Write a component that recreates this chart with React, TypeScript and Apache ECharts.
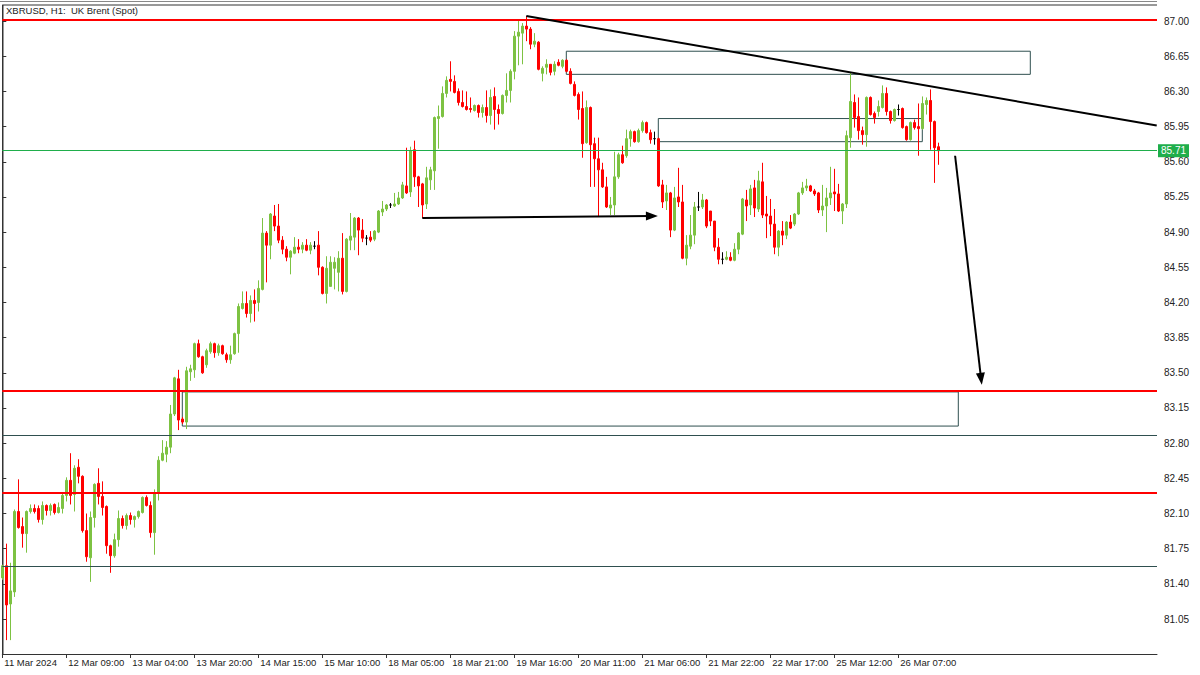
import React, { useEffect, useRef } from "react";
import * as echarts from "echarts";

const chartTitle = "XBRUSD, H1:  UK Brent (Spot)";

const timeTickLabels = [
  "11 Mar 2024", "12 Mar 09:00", "13 Mar 04:00", "13 Mar 20:00", "14 Mar 15:00",
  "15 Mar 10:00", "18 Mar 05:00", "18 Mar 21:00", "19 Mar 16:00", "20 Mar 11:00",
  "21 Mar 06:00", "21 Mar 22:00", "22 Mar 17:00", "25 Mar 12:00", "26 Mar 07:00",
];
const BARS_PER_TICK = 16;
const SLOTS = 288.675;

const priceTicks = [
  81.05, 81.4, 81.75, 82.1, 82.45, 82.8, 83.15, 83.5, 83.85, 84.2, 84.55, 84.9,
  85.25, 85.6, 85.95, 86.3, 86.65, 87.0,
];
const PRICE_TOP = 87.16;
const PRICE_BOTTOM = 80.702;

// [open, close, low, high]
const candles: number[][] = [
  [81.46, 81.58, 81.44, 81.59], [81.58, 81.19, 80.84, 81.8], [81.2, 81.33, 80.84, 81.61],
  [81.32, 82.12, 81.27, 82.14], [82.12, 81.96, 81.95, 82.44], [81.97, 81.9, 81.76, 82.06],
  [81.9, 82.12, 81.71, 82.13], [82.12, 82.15, 82.1, 82.19], [82.15, 82.12, 82.1, 82.19],
  [82.15, 82.04, 82.01, 82.18], [82.04, 82.18, 81.99, 82.22], [82.18, 82.13, 82.08, 82.19],
  [82.13, 82.18, 82.08, 82.2], [82.19, 82.11, 82.09, 82.2], [82.11, 82.16, 82.1, 82.21],
  [82.15, 82.28, 82.1, 82.3], [82.28, 82.43, 82.22, 82.46], [82.43, 82.28, 82.19, 82.7],
  [82.29, 82.55, 82.12, 82.58], [82.56, 82.47, 82.4, 82.64], [82.47, 81.93, 81.91, 82.48],
  [81.93, 81.67, 81.62, 82.1], [81.66, 82.06, 81.42, 82.12], [82.06, 82.39, 81.96, 82.4],
  [82.4, 82.27, 82.19, 82.55], [82.27, 82.16, 82.08, 82.42], [82.17, 81.78, 81.7, 82.18],
  [81.78, 81.68, 81.51, 81.79], [81.68, 81.84, 81.66, 81.9], [81.84, 82.05, 81.77, 82.13],
  [82.05, 81.98, 81.95, 82.08], [81.98, 82.08, 81.94, 82.1], [82.08, 82.04, 81.99, 82.11],
  [82.04, 82.07, 81.96, 82.08], [82.07, 82.12, 82.05, 82.13], [82.11, 82.26, 82.1, 82.27],
  [82.26, 82.18, 82.17, 82.28], [82.18, 81.91, 81.86, 82.22], [81.91, 82.3, 81.69, 82.34],
  [82.3, 82.63, 82.23, 82.67], [82.63, 82.7, 82.62, 82.83], [82.69, 82.76, 82.61, 82.82],
  [82.76, 83.09, 82.7, 83.18], [83.09, 83.45, 83.07, 83.46], [83.44, 83.03, 82.93, 83.53],
  [83.04, 83.01, 82.99, 83.06], [83.01, 83.52, 82.94, 83.56], [83.51, 83.54, 83.42, 83.58],
  [83.53, 83.79, 83.45, 83.8], [83.79, 83.66, 83.65, 83.83], [83.66, 83.5, 83.49, 83.67],
  [83.58, 83.72, 83.55, 83.74], [83.71, 83.79, 83.69, 83.81], [83.79, 83.7, 83.65, 83.8],
  [83.7, 83.77, 83.67, 83.79], [83.77, 83.69, 83.68, 83.78], [83.68, 83.63, 83.6, 83.7],
  [83.63, 83.68, 83.59, 83.77], [83.69, 83.89, 83.68, 83.9], [83.89, 84.16, 83.7, 84.19],
  [84.14, 84.19, 84.13, 84.31], [84.19, 84.09, 84.05, 84.31], [84.09, 84.22, 84.0, 84.27],
  [84.22, 84.19, 84.01, 84.33], [84.2, 84.34, 84.11, 84.42], [84.33, 84.89, 84.32, 85.04],
  [84.89, 84.77, 84.4, 84.91], [84.77, 85.08, 84.63, 85.09], [85.06, 84.96, 84.91, 85.17],
  [84.96, 84.82, 84.79, 85.18], [84.82, 84.73, 84.68, 84.86], [84.73, 84.65, 84.61, 84.76],
  [84.65, 84.71, 84.48, 84.72], [84.69, 84.75, 84.68, 84.85], [84.75, 84.73, 84.69, 84.83],
  [84.73, 84.77, 84.69, 84.8], [84.77, 84.72, 84.71, 84.83], [84.72, 84.77, 84.68, 84.8],
  [84.76, 84.76, 84.73, 84.81], [84.77, 84.55, 84.47, 84.91], [84.55, 84.29, 84.28, 84.56],
  [84.29, 84.54, 84.19, 84.66], [84.36, 84.6, 84.36, 84.66], [84.54, 84.6, 84.33, 84.65],
  [84.5, 84.64, 84.31, 84.71], [84.64, 84.31, 84.28, 84.89], [84.31, 84.83, 84.3, 84.84],
  [84.82, 84.86, 84.72, 85.09], [84.85, 85.04, 84.72, 85.05], [85.04, 84.92, 84.67, 85.05],
  [84.92, 84.84, 84.8, 85.03], [84.84, 84.84, 84.77, 84.87], [84.85, 84.82, 84.8, 84.91],
  [84.83, 84.91, 84.81, 84.92], [84.9, 85.11, 84.89, 85.12], [85.1, 85.13, 85.06, 85.21],
  [85.13, 85.17, 85.11, 85.18], [85.17, 85.17, 85.14, 85.19], [85.16, 85.18, 85.15, 85.29],
  [85.18, 85.24, 85.17, 85.3], [85.24, 85.37, 85.23, 85.4], [85.36, 85.29, 85.28, 85.74],
  [85.3, 85.71, 85.25, 85.75], [85.72, 85.45, 85.35, 85.81], [85.45, 85.36, 85.15, 85.46],
  [85.38, 85.17, 85.04, 85.39], [85.18, 85.44, 85.13, 85.55], [85.42, 85.52, 85.32, 85.55],
  [85.51, 86.04, 85.32, 86.05], [86.03, 86.05, 85.73, 86.16], [86.05, 86.28, 86.04, 86.35],
  [86.28, 86.41, 86.24, 86.45], [86.42, 86.4, 86.3, 86.6], [86.4, 86.29, 86.28, 86.46],
  [86.3, 86.19, 86.16, 86.33], [86.19, 86.15, 86.14, 86.31], [86.15, 86.12, 86.11, 86.3],
  [86.13, 86.12, 86.09, 86.24], [86.11, 86.16, 86.1, 86.17], [86.16, 86.09, 86.04, 86.17],
  [86.09, 86.14, 86.04, 86.17], [86.14, 86.06, 85.99, 86.31], [86.06, 86.24, 85.97, 86.32],
  [86.25, 86.12, 85.92, 86.34], [86.12, 86.08, 85.97, 86.17], [86.08, 86.26, 86.07, 86.27],
  [86.26, 86.31, 86.19, 86.48], [86.31, 86.5, 86.19, 86.52], [86.5, 86.85, 86.42, 86.9],
  [86.85, 86.89, 86.56, 87.01], [86.88, 86.95, 86.57, 86.98], [86.95, 86.92, 86.8, 87.05],
  [86.92, 86.77, 86.72, 86.94], [86.77, 86.8, 86.74, 86.88], [86.79, 86.52, 86.51, 86.8],
  [86.48, 86.53, 86.4, 86.55], [86.54, 86.57, 86.47, 86.62], [86.57, 86.49, 86.46, 86.57],
  [86.5, 86.57, 86.46, 86.6], [86.59, 86.56, 86.55, 86.62], [86.55, 86.61, 86.53, 86.62],
  [86.61, 86.5, 86.49, 86.62], [86.5, 86.38, 86.37, 86.53], [86.37, 86.26, 86.25, 86.4],
  [86.27, 86.12, 86.02, 86.29], [86.13, 85.78, 85.64, 86.3], [85.79, 86.14, 85.78, 86.21],
  [86.14, 85.77, 85.35, 86.15], [85.78, 85.63, 85.35, 85.84], [85.63, 85.52, 85.05, 85.84],
  [85.52, 85.35, 85.34, 85.59], [85.35, 85.15, 85.14, 85.45], [85.14, 85.17, 85.07, 85.25],
  [85.17, 85.45, 85.07, 85.7], [85.45, 85.67, 85.43, 85.69], [85.67, 85.59, 85.58, 85.76],
  [85.66, 85.83, 85.64, 85.92], [85.83, 85.9, 85.75, 85.92], [85.9, 85.8, 85.79, 85.91],
  [85.8, 85.91, 85.79, 85.93], [85.91, 85.99, 85.89, 86.01], [85.99, 85.89, 85.88, 86.0],
  [85.89, 85.82, 85.78, 85.92], [85.83, 85.83, 85.77, 85.9], [85.83, 85.36, 85.35, 85.84],
  [85.37, 85.2, 85.14, 85.42], [85.21, 85.29, 85.12, 85.37], [85.29, 84.92, 84.85, 85.3],
  [84.92, 85.24, 84.91, 85.35], [85.25, 85.2, 85.15, 85.54], [85.2, 84.64, 84.63, 85.37],
  [84.64, 84.77, 84.57, 84.87], [84.76, 84.87, 84.73, 85.07], [84.87, 85.15, 84.78, 85.2],
  [85.15, 85.15, 85.11, 85.3], [85.15, 85.22, 85.13, 85.28], [85.22, 84.96, 84.94, 85.23],
  [85.11, 85.01, 84.96, 85.11], [85.01, 84.75, 84.71, 85.01], [84.75, 84.63, 84.58, 84.84],
  [84.63, 84.63, 84.58, 84.7], [84.63, 84.65, 84.62, 84.71], [84.65, 84.62, 84.61, 84.7],
  [84.62, 84.73, 84.61, 84.79], [84.73, 84.89, 84.68, 84.9], [84.88, 85.23, 84.87, 85.24],
  [85.22, 85.16, 85.01, 85.32], [85.17, 85.33, 85.07, 85.37], [85.34, 85.14, 85.05, 85.42],
  [85.13, 85.41, 85.1, 85.51], [85.4, 85.07, 85.04, 85.59], [85.08, 85.06, 84.84, 85.26],
  [85.06, 84.98, 84.86, 85.23], [84.98, 84.75, 84.68, 85.13], [84.75, 84.91, 84.66, 84.92],
  [84.91, 84.87, 84.77, 85.01], [84.87, 85.0, 84.83, 85.01], [85.0, 84.94, 84.93, 85.07],
  [84.98, 85.08, 84.96, 85.09], [85.08, 85.29, 85.07, 85.3], [85.29, 85.34, 85.27, 85.4],
  [85.34, 85.36, 85.31, 85.43], [85.36, 85.31, 85.3, 85.37], [85.31, 85.28, 85.26, 85.33],
  [85.29, 85.12, 85.09, 85.3], [85.12, 85.16, 85.06, 85.37], [85.16, 85.24, 84.9, 85.34],
  [85.24, 85.29, 85.17, 85.55], [85.3, 85.28, 85.11, 85.53], [85.28, 85.11, 85.1, 85.38],
  [85.11, 85.18, 84.98, 85.19], [85.18, 85.86, 85.14, 85.91], [85.84, 86.2, 85.74, 86.49],
  [86.19, 86.04, 85.94, 86.27], [86.05, 85.91, 85.82, 86.24], [85.91, 85.87, 85.77, 85.95],
  [85.87, 86.24, 85.75, 86.25], [86.24, 86.07, 86.06, 86.25], [86.08, 86.04, 85.98, 86.1],
  [86.1, 86.15, 86.05, 86.21], [86.14, 86.28, 86.13, 86.36], [86.28, 86.1, 86.06, 86.34],
  [86.1, 86.01, 85.98, 86.11], [86.01, 86.12, 86.0, 86.13], [86.12, 86.12, 86.06, 86.17],
  [86.13, 85.94, 85.93, 86.14], [85.95, 85.82, 85.81, 85.96], [85.82, 85.99, 85.81, 86.0],
  [85.99, 85.94, 85.92, 86.02], [85.95, 85.93, 85.66, 86.18], [85.93, 86.18, 85.92, 86.25],
  [86.17, 86.21, 86.07, 86.24], [86.21, 86.0, 85.72, 86.32], [86.0, 85.74, 85.39, 86.01],
  [85.75, 85.71, 85.57, 85.79],
];

const lastPrice = 85.71;
const redLevels = [87.01, 83.32, 82.31];
const slateLevels = [82.88, 81.575];
// [barStart, priceTop, barEnd, priceBottom]
const zones = [
  [141, 86.7, 257, 86.47],
  [164, 86.03, 230, 85.8],
  [45, 83.31, 239, 82.97],
];
const trendLine = [[131, 87.05], [288.6, 85.96]];
const arrowRight = [[105, 85.04], [162.4, 85.06]];
const arrowDown = [[238.2, 85.66], [244.7, 83.44]];

const GREEN = "#7dc242";
const RED = "#ff0000";
const SLATE = "#2f4f4f";
const FONT = "Liberation Sans";

export default function App() {
  const ref = useRef<HTMLDivElement>(null);

  useEffect(() => {
    if (!ref.current) return;
    const chart = echarts.init(ref.current, null, { renderer: "svg" });
    const tickIdx = timeTickLabels.map((_, k) => k * BARS_PER_TICK);

    const data = candles.map((c, i) => {
      const doji = c[0] === c[1];
      const item: any = { value: [i, c[0], c[1], c[2], c[3]] };
      if (doji) {
        item.itemStyle = { color: "#000", color0: "#000", borderColor: "#000", borderColor0: "#000" };
      }
      return item;
    });

    const hLines: any[] = [
      ...redLevels.map((v) => ({ yAxis: v, lineStyle: { color: RED, width: 2, type: "solid" } })),
      ...slateLevels.map((v) => ({ yAxis: v, lineStyle: { color: SLATE, width: 1, type: "solid" } })),
      {
        yAxis: lastPrice,
        lineStyle: { color: "#1fae4b", width: 1, type: "solid" },
        label: {
          show: true,
          position: "end",
          formatter: lastPrice.toFixed(2),
          backgroundColor: "#1fae4b",
          color: "#fff",
          fontFamily: FONT,
          fontSize: 10,
          padding: [2, 3, 1, 3],
          distance: 1,
        },
      },
    ];

    const segs: any[] = [
      [
        { coord: trendLine[0], symbol: "none" },
        { coord: trendLine[1], symbol: "none" },
      ],
      [
        { coord: arrowRight[0], symbol: "none" },
        { coord: arrowRight[1], symbol: "triangle", symbolSize: [9, 12] },
      ],
      [
        { coord: arrowDown[0], symbol: "none" },
        { coord: arrowDown[1], symbol: "triangle", symbolSize: [9, 12] },
      ],
    ].map((pair: any) =>
      pair.map((p: any) => ({ ...p, lineStyle: { color: "#000", width: 2, type: "solid" } }))
    );

    const option: any = {
      animation: false,
      backgroundColor: "#ffffff",
      grid: { left: 2.3, right: 43, top: 5, bottom: 21, containLabel: false },
      xAxis: {
        type: "value",
        min: 0,
        max: SLOTS,
        axisLine: { show: true, lineStyle: { color: "#333", width: 1 } },
        axisTick: { show: true, length: 4, lineStyle: { color: "#333" }, customValues: tickIdx },
        axisLabel: {
          customValues: tickIdx,
          formatter: (v: number) => timeTickLabels[Math.round(v / BARS_PER_TICK)] ?? "",
          align: "left",
          fontSize: 9.5,
          fontFamily: FONT,
          color: "#222",
          margin: 3,
          padding: [0, 0, 0, 2],
        },
        splitLine: { show: false },
      },
      yAxis: {
        type: "value",
        position: "right",
        min: PRICE_BOTTOM,
        max: PRICE_TOP,
        axisLine: { show: true, lineStyle: { color: "#333", width: 1 } },
        axisTick: { show: true, length: 4, lineStyle: { color: "#333" }, customValues: priceTicks },
        axisLabel: {
          customValues: priceTicks,
          formatter: (v: number) => v.toFixed(2),
          fontSize: 10,
          fontFamily: FONT,
          color: "#222",
          margin: 7,
        },
        splitLine: { show: false },
      },
      series: [
        {
          type: "candlestick",
          dimensions: ["idx", "open", "close", "lowest", "highest"],
          encode: { x: 0, y: [1, 2, 3, 4] },
          data,
          barWidth: 2,
          clip: true,
          itemStyle: {
            color: GREEN,
            color0: RED,
            borderColor: GREEN,
            borderColor0: RED,
            borderWidth: 1,
          },
          markArea: {
            silent: true,
            itemStyle: { color: "rgba(0,0,0,0)", borderColor: SLATE, borderWidth: 1 },
            data: zones.map((z) => [{ coord: [z[0], z[1]] }, { coord: [z[2], z[3]] }]),
          },
          markLine: {
            silent: true,
            symbol: ["none", "none"],
            label: { show: false },
            data: [...hLines, ...segs],
          },
        },
      ],
      graphic: [
        { type: "line", shape: { x1: 0, y1: 1.5, x2: 1157, y2: 1.5 }, style: { stroke: "#888", lineWidth: 1 } },
        { type: "line", shape: { x1: 3, y1: 5, x2: 1157, y2: 5 }, style: { stroke: "#333", lineWidth: 1 } },
        { type: "line", shape: { x1: 3, y1: 5, x2: 3, y2: 654 }, style: { stroke: "#333", lineWidth: 1 } },
        {
          type: "text",
          left: 6,
          top: 5,
          style: { text: chartTitle, fill: "#222", fontSize: 9.5, fontFamily: FONT },
        },
      ],
    };

    chart.setOption(option);
    return () => chart.dispose();
  }, []);

  return (
    <div
      ref={ref}
      style={{ position: "fixed", left: 0, top: 0, width: 1200, height: 675, background: "#fff" }}
    />
  );
}
